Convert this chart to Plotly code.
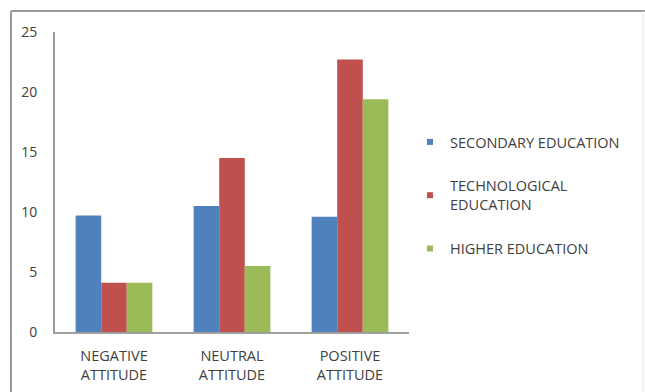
import plotly.graph_objects as go

categories = ["NEGATIVE<br>ATTITUDE", "NEUTRAL<br>ATTITUDE", "POSITIVE<br>ATTITUDE"]
series_names = ["SECONDARY EDUCATION", "TECHNOLOGICAL<br>EDUCATION", "HIGHER EDUCATION"]
secondary = [9.7, 10.5, 9.6]
technological = [4.1, 14.5, 22.7]
higher = [4.1, 5.5, 19.4]
colors = ["#4F81BD", "#C0504D", "#9BBB59"]
y_ticks = [0, 5, 10, 15, 20, 25]

fig = go.Figure()
for i, (name, vals) in enumerate(zip(series_names, [secondary, technological, higher])):
    fig.add_trace(go.Bar(x=categories, y=vals, name=name, marker_color=colors[i],
                         marker_line_width=0, showlegend=False, legendgroup=f"g{i}"))
for i, name in enumerate(series_names):
    fig.add_trace(go.Scatter(x=[None], y=[None], mode="markers", name=name,
                             marker=dict(symbol="square", size=6, color=colors[i]),
                             legendgroup=f"g{i}", showlegend=True))

L, R, T, B = 55, 236, 32, 60
W, H = 645, 392
pw, ph = W - L - R, H - T - B
def px(x): return (x - L) / pw
def py(y): return (H - B - y) / ph

fig.update_layout(
    width=W, height=H, margin=dict(l=L, r=R, t=T, b=B, autoexpand=False),
    paper_bgcolor="white", plot_bgcolor="white",
    barmode="group", bargap=0.35, bargroupgap=0,
    font=dict(family="Open Sans", size=14, color="#404040"),
    legend=dict(xref="container", yref="container", x=410 / W, y=1 - 126 / H,
                xanchor="left", yanchor="top",
                font=dict(size=14.5, color="#404040"), tracegroupgap=22,
                itemwidth=30, traceorder="grouped"),
    yaxis=dict(range=[0, 25], tickvals=y_ticks, showgrid=False, showline=True,
               linecolor="#9A9A9A", linewidth=2, ticks="", ticklabelstandoff=13,
               tickfont=dict(size=14, color="#404040"), zeroline=False, automargin=False),
    xaxis=dict(showline=True, linecolor="#A0A0A0", linewidth=1.5, ticks="",
               tickfont=dict(size=14.5, color="#404040"), ticklabelstandoff=10,
               automargin=False),
    shapes=[
        dict(type="line", xref="paper", yref="paper", x0=px(11), x1=px(11), y0=py(11), y1=py(400),
             line=dict(color="#9A9A9A", width=2)),
        dict(type="line", xref="paper", yref="paper", x0=px(11), x1=px(645), y0=py(11), y1=py(11),
             line=dict(color="#9A9A9A", width=2)),
        dict(type="line", xref="paper", yref="paper", x0=px(643), x1=px(643), y0=py(11), y1=py(400),
             line=dict(color="#E4E4E4", width=1)),
    ],
)

fig.write_html("out.html")
